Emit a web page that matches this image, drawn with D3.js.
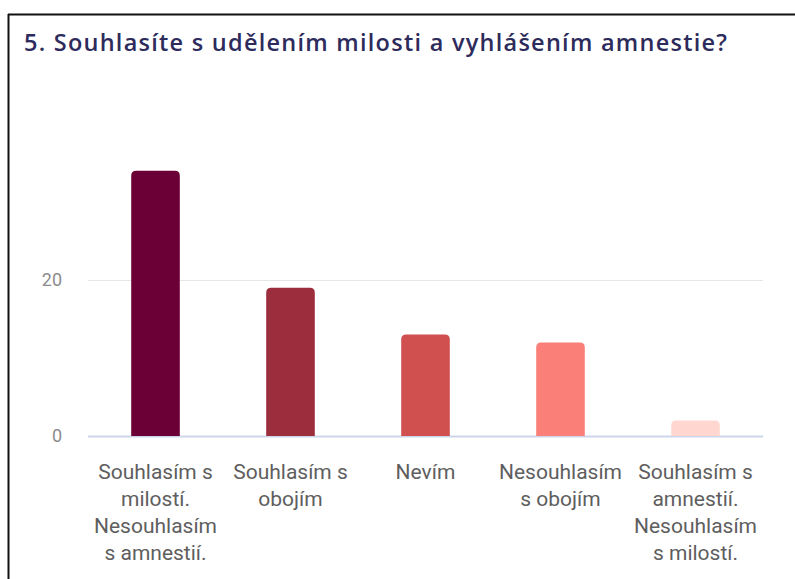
<!DOCTYPE html>
<html>
<head>
<meta charset="utf-8">
<script src="https://cdn.jsdelivr.net/npm/d3@7"></script>
<style>
  html, body { margin: 0; padding: 0; background: #fff; }
  svg { display: block; }
</style>
</head>
<body>
<svg id="chart" width="795" height="579"></svg>
<script>
const title = '5. Souhlasíte s udělením milosti a vyhlášením amnestie?';
const categories = [
  ['Souhlasím s', 'milostí.', 'Nesouhlasím', 's amnestií.'],
  ['Souhlasím s', 'obojím'],
  ['Nevím'],
  ['Nesouhlasím', 's obojím'],
  ['Souhlasím s', 'amnestií.', 'Nesouhlasím', 's milostí.']
];
const values = [34, 19, 13, 12, 2];
const colors = ['#6a0036', '#9c2d3c', '#d04f4f', '#fa7f78', '#ffd7d0'];
const yTicks = [0, 20];

const svg = d3.select('#chart');
const width = 795;
const height = 579;

// frame lines (top and left)
svg.append('line')
  .attr('x1', 8).attr('x2', width)
  .attr('y1', 14.5).attr('y2', 14.5)
  .attr('stroke', '#111').attr('stroke-width', 2);
svg.append('line')
  .attr('x1', 8.5).attr('x2', 8.5)
  .attr('y1', 14).attr('y2', height)
  .attr('stroke', '#111').attr('stroke-width', 2);

svg.append('text')
  .attr('x', 24)
  .attr('y', 51)
  .attr('fill', '#2d2b5c')
  .attr('font-family', '"Open Sans", sans-serif')
  .attr('font-weight', 600)
  .attr('font-size', '23.5px')
  .attr('textLength', 703)
  .attr('lengthAdjust', 'spacing')
  .text(title);

const x = d3.scaleBand()
  .domain(d3.range(values.length))
  .range([88, 763])
  .paddingInner(0.64)
  .paddingOuter(0.32);

const y = d3.scaleLinear()
  .domain([0, 20])
  .range([436, 280]);

// gridlines
svg.append('g')
  .selectAll('line')
  .data(yTicks)
  .join('line')
  .attr('x1', 88).attr('x2', 763)
  .attr('y1', (d) => Math.round(y(d)) + 0.5)
  .attr('y2', (d) => Math.round(y(d)) + 0.5)
  .attr('stroke', (d) => (d === 0 ? '#ccd6eb' : '#e6e6e6'))
  .attr('stroke-width', (d) => (d === 0 ? 2 : 1));

// y labels
svg.append('g')
  .selectAll('text')
  .data(yTicks)
  .join('text')
  .attr('x', 62)
  .attr('y', (d) => y(d) + 6)
  .attr('text-anchor', 'end')
  .attr('fill', '#8c8c8c')
  .attr('font-family', 'Roboto, sans-serif')
  .attr('font-size', '18px')
  .text((d) => d);

// bars with rounded tops
const r = 5;
svg.append('g')
  .selectAll('path')
  .data(values)
  .join('path')
  .attr('fill', (d, i) => colors[i])
  .attr('d', (d, i) => {
    const x0 = x(i), x1 = x(i) + x.bandwidth();
    const top = y(d), base = y(0);
    return `M${x0},${base}V${top + r}Q${x0},${top} ${x0 + r},${top}` +
      `H${x1 - r}Q${x1},${top} ${x1},${top + r}V${base}Z`;
  });

// category labels
const labels = svg.append('g')
  .selectAll('text')
  .data(categories)
  .join('text')
  .attr('x', (d, i) => x(i) + x.bandwidth() / 2)
  .attr('y', 479)
  .attr('text-anchor', 'middle')
  .attr('fill', '#5e5e5e')
  .attr('font-family', 'Roboto, sans-serif')
  .attr('font-size', '21px');

labels.selectAll('tspan')
  .data((d) => d)
  .join('tspan')
  .attr('x', function () { return this.parentNode.getAttribute('x'); })
  .attr('dy', (d, j) => (j === 0 ? 0 : 27))
  .text((d) => d);
</script>
</body>
</html>
